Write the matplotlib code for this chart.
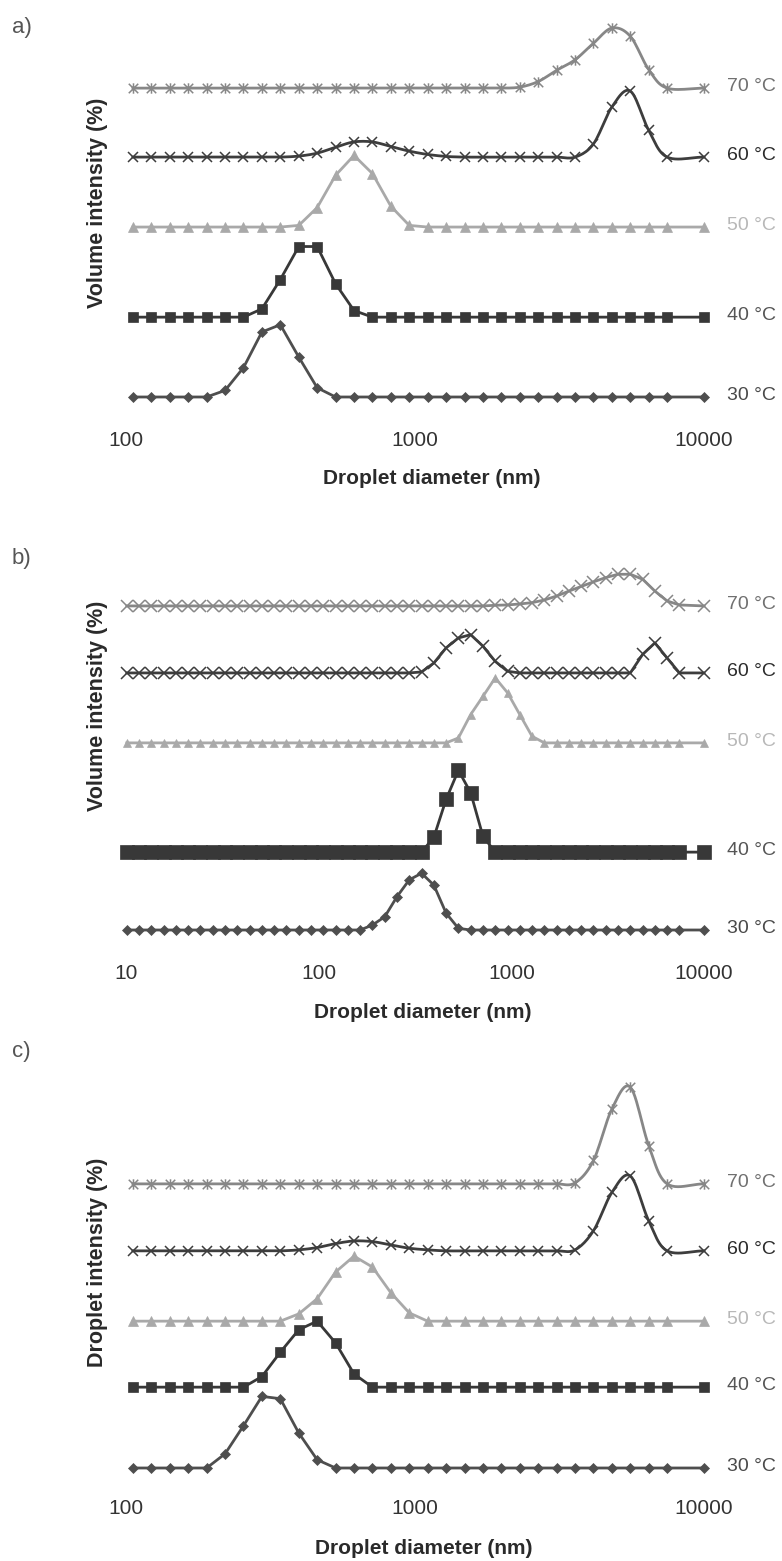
import numpy as np
import matplotlib
matplotlib.use("Agg")
import matplotlib.pyplot as plt
from matplotlib.path import Path
from matplotlib.ticker import NullLocator

plt.rcParams['font.family'] = ['Liberation Sans', 'DejaVu Sans']

W, H = 782, 1561
S = 3.3  # pixels per intensity unit (%)

# Size classes of the analyser (nm)
diam_100 = [105.7, 122.4, 141.8, 164.2, 190.1, 220.2, 255.0, 295.3, 342.0, 396.1,
            458.7, 531.2, 615.1, 712.4, 825.0, 955.4, 1106, 1281, 1484, 1718,
            1990, 2305, 2669, 3091, 3580, 4145, 4801, 5560, 6439, 7456, 10000]
diam_10 = [10.10, 11.70, 13.54, 15.69, 18.17, 21.04, 24.36, 28.21, 32.67, 37.84,
           43.82, 50.75, 58.77, 68.06, 78.82, 91.28,
           105.7, 122.4, 141.8, 164.2, 190.1, 220.2, 255.0, 295.3, 342.0, 396.1,
           458.7, 531.2, 615.1, 712.4, 825.0, 955.4, 1106, 1281, 1484, 1718,
           1990, 2305, 2669, 3091, 3580, 4145, 4801, 5560, 6439, 7456, 10000]

temps = ['30 °C', '40 °C', '50 °C', '60 °C', '70 °C']

# a) volume intensity (%)
a_30 = [0, 0, 0, 0, 0, 2.0, 8.9, 19.7, 21.9, 12.1, 2.8, 0, 0, 0, 0, 0,
        0, 0, 0, 0, 0, 0, 0, 0, 0, 0, 0, 0, 0, 0, 0]
a_40 = [0, 0, 0, 0, 0, 0, 0, 2.5, 11.4, 21.4, 21.4, 10.1, 2.0, 0, 0, 0,
        0, 0, 0, 0, 0, 0, 0, 0, 0, 0, 0, 0, 0, 0, 0]
a_50 = [0, 0, 0, 0, 0, 0, 0, 0, 0, 0.5, 5.9, 15.7, 21.7, 16.2, 6.3, 0.5,
        0, 0, 0, 0, 0, 0, 0, 0, 0, 0, 0, 0, 0, 0, 0]
a_60 = [0, 0, 0, 0, 0, 0, 0, 0, 0, 0.3, 1.2, 3.0, 4.6, 4.6, 3.2, 1.8,
        0.8, 0.2, 0, 0, 0, 0, 0, 0, 0, 4.0, 15.2, 20.0, 8.1, 0, 0]
a_70 = [0, 0, 0, 0, 0, 0, 0, 0, 0, 0, 0, 0, 0, 0, 0, 0,
        0, 0, 0, 0, 0, 0.3, 2.0, 5.4, 8.6, 13.6, 18.2, 15.7, 5.6, 0, 0]

# b) volume intensity (%)
b_30 = [0] * 20 + [1.5, 4.0, 10.1, 15.2, 17.2, 13.6, 5.1, 0.5] + [0] * 19
b_40 = [0] * 25 + [4.5, 16.0, 24.8, 18.0, 4.8] + [0] * 17
b_50 = [0] * 27 + [1.5, 8.6, 14.1, 19.7, 15.2, 8.6, 2.0] + [0] * 13
b_60 = ([0] * 24 + [0.3, 3.0, 7.6, 10.6, 11.6, 8.1, 3.5, 0.5]
        + [0] * 9 + [0, 5.6, 9.1, 4.5, 0, 0])
b_70 = ([0] * 30 + [0.2, 0.3, 0.6, 1.0, 1.8, 3.0, 4.5, 5.9, 7.3, 8.6, 9.6, 9.6,
                    8.1, 4.5, 1.5, 0.3, 0])

# c) droplet intensity (%)
c_30 = [0, 0, 0, 0, 0, 4.3, 12.8, 21.7, 21.0, 10.6, 2.5, 0, 0, 0, 0, 0,
        0, 0, 0, 0, 0, 0, 0, 0, 0, 0, 0, 0, 0, 0, 0]
c_40 = [0, 0, 0, 0, 0, 0, 0, 3.2, 10.6, 17.4, 20.0, 13.4, 4.0, 0, 0, 0,
        0, 0, 0, 0, 0, 0, 0, 0, 0, 0, 0, 0, 0, 0, 0]
c_50 = [0, 0, 0, 0, 0, 0, 0, 0, 0, 2.2, 6.8, 14.9, 19.7, 16.4, 8.6, 2.5,
        0, 0, 0, 0, 0, 0, 0, 0, 0, 0, 0, 0, 0, 0, 0]
c_60 = [0, 0, 0, 0, 0, 0, 0, 0, 0, 0.3, 1.0, 2.2, 3.0, 2.8, 1.8, 0.8,
        0.3, 0, 0, 0, 0, 0, 0, 0, 0.3, 6.1, 17.7, 22.7, 9.1, 0, 0]
c_70 = [0, 0, 0, 0, 0, 0, 0, 0, 0, 0, 0, 0, 0, 0, 0, 0,
        0, 0, 0, 0, 0, 0, 0, 0, 0.3, 7.1, 22.7, 29.3, 11.6, 0, 0]

# vertical stacking of the curves (intensity units)
offsets_a = [0, 24.2, 51.5, 72.7, 93.6]
offsets_b = [0, 23.6, 56.7, 77.9, 98.2]
offsets_c = [0, 24.5, 44.5, 65.8, 86.1]

# "x with a vertical bar" star marker
STAR = Path([(-0.5, -0.5), (0.5, 0.5), (-0.5, 0.5), (0.5, -0.5), (0, -0.55), (0, 0.55)],
            [Path.MOVETO, Path.LINETO] * 3)

line_colors = ['#4e4e4e', '#383838', '#a9a9a9', '#3d3d3d', '#878787']
label_colors = ['#4a4a4a', '#555555', '#b8b8b8', '#2b2b2b', '#707070']


def catmull_rom(x, y, n=12):
    lx = np.log10(np.asarray(x, float))
    P = np.column_stack([lx, np.asarray(y, float)])
    P = np.vstack([2 * P[0] - P[1], P, 2 * P[-1] - P[-2]])
    t = np.linspace(0, 1, n, endpoint=False)[:, None]
    segs = []
    for i in range(1, len(P) - 2):
        p0, p1, p2, p3 = P[i - 1], P[i], P[i + 1], P[i + 2]
        segs.append(0.5 * (2 * p1 + (-p0 + p2) * t
                           + (2 * p0 - 5 * p1 + 4 * p2 - p3) * t ** 2
                           + (-p0 + 3 * p1 - 3 * p2 + p3) * t ** 3))
    segs.append(P[-2][None, :])
    out = np.vstack(segs)
    return 10 ** out[:, 0], out[:, 1]


fig = plt.figure(figsize=(W / 100, H / 100), dpi=100)
fig.patch.set_facecolor('white')


def panel(top, bottom, base30, xmin, x, series, offsets, markers, smooth,
          letter, letter_y, ylabel, ylabel_y, xlabel_x, xlabel_y, lw=2.0):
    ax = fig.add_axes([126 / W, 1 - bottom / H, (704 - 126) / W, (bottom - top) / H])
    ax.set_xscale('log')
    ax.set_xlim(xmin, 10000)
    ax.set_ylim((base30 - bottom) / S, (base30 - top) / S)
    for k, (vals, off) in enumerate(zip(series, offsets)):
        col = line_colors[k]
        y = np.asarray(vals, float) + off
        if smooth[k]:
            sx, sy = catmull_rom(x, y)
            ax.plot(sx, sy, color=col, lw=lw, clip_on=False, zorder=2 + k)
        else:
            ax.plot(x, y, color=col, lw=lw, clip_on=False, zorder=2 + k)
        mk, ms = markers[k]
        open_mk = mk in ('x',) or isinstance(mk, Path)
        ax.plot(x, y, ls='none', marker=mk, ms=ms,
                mfc='none' if open_mk else col, mec=col,
                mew=1.1 if open_mk else 0.5, clip_on=False, zorder=2.5 + k)
        ax.annotate(temps[k], xy=(10000, off), xytext=(16.5, 1),
                    textcoords='offset points', va='center', ha='left',
                    fontsize=14, color=label_colors[k], annotation_clip=False)
    for sp in ax.spines.values():
        sp.set_visible(False)
    ax.set_yticks([])
    ticks = [t for t in (10, 100, 1000, 10000) if t >= xmin]
    ax.set_xticks(ticks)
    ax.set_xticklabels([str(t) for t in ticks])
    ax.xaxis.set_minor_locator(NullLocator())
    ax.tick_params(axis='x', length=0, pad=7.6, labelsize=15, labelcolor='#333333')
    ax.set_xlabel('Droplet diameter (nm)', fontsize=15, fontweight='bold', color='#2a2a2a')
    ax.xaxis.set_label_coords(xlabel_x / W, 1 - xlabel_y / H, transform=fig.transFigure)
    ax.xaxis.label.set_va('center')
    ax.set_ylabel(ylabel, fontsize=15.5, fontweight='bold', color='#2a2a2a')
    ax.yaxis.set_label_coords(97 / W, 1 - ylabel_y / H, transform=fig.transFigure)
    ax.yaxis.label.set_va('center')
    fig.text(12 / W, 1 - letter_y / H, letter, fontsize=16, color='#555555',
             ha='left', va='center')
    return ax


mk_ac = [('D', 5.5), ('s', 7.5), ('^', 7), ('x', 6.5), (STAR, 7.5)]
mk_b = [('D', 5.3), ('s', 9.5), ('^', 6), ('x', 9), ('x', 9)]

panel(15, 420, 397, 100, diam_100, [a_30, a_40, a_50, a_60, a_70], offsets_a,
      mk_ac, [False, False, False, True, True], 'a)', 27,
      'Volume intensity (%)', 203, 432, 478)
panel(548, 953, 930, 10, diam_10, [b_30, b_40, b_50, b_60, b_70], offsets_b,
      mk_b, [False, False, False, False, False], 'b)', 558,
      'Volume intensity (%)', 706, 423, 1013)
panel(1050, 1488, 1468, 100, diam_100, [c_30, c_40, c_50, c_60, c_70], offsets_c,
      mk_ac, [False, False, False, True, True], 'c)', 1052,
      'Droplet intensity (%)', 1262, 424, 1549)

fig.savefig('out.png', dpi=100, facecolor='white')
